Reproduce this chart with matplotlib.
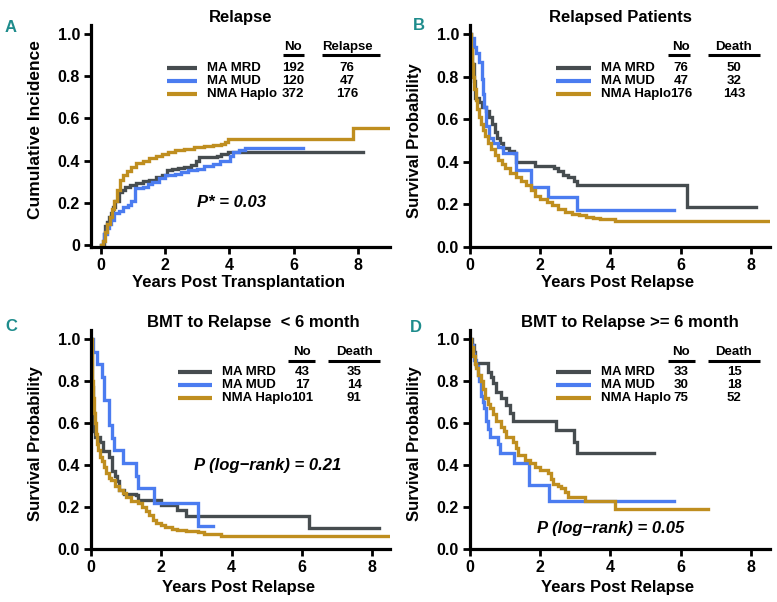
import matplotlib
matplotlib.use("Agg")
import matplotlib.pyplot as plt

plt.rcParams["font.family"] = ["Liberation Sans", "DejaVu Sans"]
plt.rcParams["font.weight"] = "bold"

W, H = 777, 602

GROUPS = ["MA MRD", "MA MUD", "NMA Haplo"]
COLORS = ["#464c4f", "#4b7cf0", "#bf8e1f"]
TEAL = "#1e8c8c"

X_TICKS = [0, 2, 4, 6, 8]
Y_TICKS = [0, 0.2, 0.4, 0.6, 0.8, 1.0]
A_YTICKLABELS = ["0", "0.2", "0.4", "0.6", "0.8", "1.0"]
BCD_YTICKLABELS = ["0.0", "0.2", "0.4", "0.6", "0.8", "1.0"]

# Panel A: cumulative incidence of relapse
a_mrd_t = [0, 0.08, 0.12, 0.18, 0.25, 0.3, 0.38, 0.45, 0.55, 0.65, 0.75, 0.9, 1.1, 1.3, 1.5,
           1.7, 1.9, 2.05, 2.2, 2.4, 2.6, 2.8, 2.95, 3.05, 3.6, 3.75, 3.95, 8.16]
a_mrd_y = [0, 0.05, 0.09, 0.11, 0.13, 0.15, 0.18, 0.21, 0.25, 0.26, 0.275, 0.285, 0.295, 0.305,
           0.31, 0.32, 0.33, 0.355, 0.36, 0.365, 0.37, 0.38, 0.40, 0.415, 0.42, 0.43, 0.44, 0.44]
a_mud_t = [0, 0.05, 0.1, 0.18, 0.25, 0.32, 0.42, 0.55, 0.7, 0.85, 0.95, 1.05, 1.3, 1.45, 1.6,
           1.8, 2.0, 2.3, 2.5, 2.7, 3.0, 3.2, 3.5, 3.7, 4.02, 4.1, 4.3, 4.5, 6.3]
a_mud_y = [0, 0.02, 0.05, 0.08, 0.10, 0.12, 0.15, 0.16, 0.18, 0.19, 0.21, 0.27, 0.275, 0.29,
           0.30, 0.315, 0.33, 0.335, 0.345, 0.355, 0.36, 0.375, 0.385, 0.40, 0.42, 0.44, 0.45,
           0.46, 0.46]
a_hap_t = [0, 0.05, 0.12, 0.2, 0.28, 0.35, 0.42, 0.5, 0.58, 0.68, 0.8, 0.95, 1.1, 1.3, 1.5,
           1.7, 1.9, 2.1, 2.3, 2.6, 2.9, 3.2, 3.5, 3.75, 3.85, 3.95, 7.85, 9.0]
a_hap_y = [0, 0.02, 0.06, 0.10, 0.13, 0.17, 0.21, 0.26, 0.31, 0.33, 0.35, 0.37, 0.39, 0.40,
           0.41, 0.42, 0.43, 0.44, 0.45, 0.455, 0.465, 0.47, 0.475, 0.48, 0.49, 0.50, 0.555, 0.555]
a_no = [192, 120, 372]
a_events = [76, 47, 176]

# Panel B: survival of relapsed patients
b_mrd_t = [0, 0.03, 0.06, 0.1, 0.15, 0.25, 0.35, 0.45, 0.55, 0.62, 0.7, 0.78, 0.85, 0.95, 1.1,
           1.25, 1.3, 1.85, 2.4, 2.5, 2.65, 2.8, 2.95, 3.05, 6.18, 8.15]
b_mrd_y = [1.0, 0.95, 0.86, 0.78, 0.70, 0.68, 0.66, 0.64, 0.61, 0.58, 0.54, 0.51, 0.49, 0.465,
           0.45, 0.44, 0.40, 0.38, 0.37, 0.355, 0.34, 0.33, 0.31, 0.29, 0.19, 0.19]
b_mud_t = [0, 0.04, 0.1, 0.18, 0.25, 0.33, 0.36, 0.4, 0.45, 0.55, 0.65, 0.8, 0.95, 1.3, 1.75,
           2.22, 3.05, 5.8]
b_mud_y = [1.0, 0.98, 0.94, 0.91, 0.87, 0.79, 0.72, 0.66, 0.57, 0.51, 0.49, 0.47, 0.44, 0.36,
           0.28, 0.235, 0.175, 0.175]
b_hap_t = [0, 0.02, 0.05, 0.08, 0.12, 0.16, 0.2, 0.25, 0.3, 0.36, 0.42, 0.5, 0.6, 0.7, 0.8, 0.9,
           1.0, 1.15, 1.3, 1.45, 1.6, 1.75, 1.85, 2.0, 2.2, 2.35, 2.5, 2.7, 2.9, 3.1, 3.3, 3.5,
           3.7, 4.13, 8.55]
b_hap_y = [1.0, 0.93, 0.86, 0.80, 0.74, 0.69, 0.65, 0.61, 0.58, 0.55, 0.52, 0.49, 0.46, 0.43,
           0.41, 0.39, 0.37, 0.35, 0.33, 0.31, 0.29, 0.27, 0.24, 0.225, 0.21, 0.195, 0.18, 0.165,
           0.155, 0.15, 0.14, 0.135, 0.13, 0.12, 0.12]
b_no = [76, 47, 176]
b_events = [50, 32, 143]

# Panel C: BMT to relapse < 6 months
c_mrd_t = [0, 0.02, 0.04, 0.06, 0.09, 0.12, 0.25, 0.35, 0.5, 0.6, 0.68, 0.75, 0.8, 0.95, 1.28,
           1.35, 2.0, 2.45, 2.7, 6.2, 8.2]
c_mrd_y = [1.0, 0.88, 0.77, 0.65, 0.56, 0.535, 0.51, 0.465, 0.44, 0.37, 0.35, 0.325, 0.28, 0.26,
           0.255, 0.235, 0.21, 0.185, 0.155, 0.10, 0.10]
c_mud_t = [0, 0.05, 0.18, 0.3, 0.38, 0.5, 0.6, 0.66, 0.9, 1.27, 1.33, 1.78, 3.05, 3.47]
c_mud_y = [1.0, 0.94, 0.88, 0.82, 0.71, 0.59, 0.53, 0.47, 0.41, 0.35, 0.29, 0.22, 0.11, 0.11]
c_hap_t = [0, 0.02, 0.04, 0.06, 0.08, 0.1, 0.13, 0.16, 0.2, 0.25, 0.3, 0.36, 0.42, 0.5, 0.58,
           0.68, 0.8, 0.9, 1.0, 1.15, 1.35, 1.45, 1.55, 1.65, 1.75, 1.85, 2.0, 2.1, 2.3, 2.45,
           2.7, 3.05, 3.2, 3.7, 8.5]
c_hap_y = [1.0, 0.9, 0.8, 0.72, 0.65, 0.6, 0.55, 0.5, 0.47, 0.44, 0.42, 0.39, 0.36, 0.34, 0.33,
           0.30, 0.28, 0.265, 0.25, 0.23, 0.22, 0.2, 0.18, 0.16, 0.14, 0.125, 0.115, 0.105, 0.095,
           0.09, 0.085, 0.08, 0.07, 0.06, 0.06]
c_no = [43, 17, 101]
c_events = [35, 14, 91]

# Panel D: BMT to relapse >= 6 months
d_mrd_t = [0, 0.05, 0.1, 0.15, 0.51, 0.6, 0.66, 0.75, 0.89, 1.03, 1.13, 1.22, 2.45, 2.95, 3.05,
           5.25]
d_mrd_y = [1.0, 0.97, 0.94, 0.885, 0.845, 0.82, 0.79, 0.75, 0.717, 0.686, 0.646, 0.61, 0.565,
           0.51, 0.455, 0.455]
d_mud_t = [0, 0.04, 0.08, 0.12, 0.17, 0.22, 0.27, 0.31, 0.36, 0.41, 0.46, 0.52, 0.56, 0.8, 0.85,
           1.25, 1.68, 2.25, 5.8]
d_mud_y = [1.0, 0.97, 0.93, 0.90, 0.87, 0.83, 0.80, 0.73, 0.70, 0.67, 0.61, 0.57, 0.535, 0.50,
           0.455, 0.41, 0.305, 0.23, 0.23]
d_hap_t = [0, 0.03, 0.08, 0.13, 0.18, 0.23, 0.3, 0.37, 0.44, 0.51, 0.58, 0.66, 0.75, 0.89, 0.96,
           1.03, 1.22, 1.3, 1.37, 1.56, 1.7, 1.84, 2.0, 2.22, 2.3, 2.36, 2.5, 2.6, 2.7, 2.79,
           3.28, 4.13, 6.79]
d_hap_y = [1.0, 0.96, 0.92, 0.88, 0.86, 0.83, 0.80, 0.76, 0.72, 0.69, 0.67, 0.645, 0.61, 0.58,
           0.56, 0.535, 0.51, 0.48, 0.45, 0.425, 0.41, 0.39, 0.375, 0.36, 0.335, 0.31, 0.30,
           0.29, 0.27, 0.25, 0.23, 0.19, 0.19]
d_no = [33, 30, 75]
d_events = [15, 18, 52]

PANELS = [
    dict(letter="A", letter_px=(11, 28), rect=(91, 25, 390, 247), xlim=(-0.31, 9.0),
         ylim=(-0.01, 1.043), yticklabels=A_YTICKLABELS,
         curves=[(a_mrd_t, a_mrd_y), (a_mud_t, a_mud_y), (a_hap_t, a_hap_y)],
         no=a_no, events=a_events, ev_head="Relapse",
         title="Relapse", title_xy=(0.5, 1.036),
         xlabel="Years Post Transplantation", xlabel_xy=(0.492, -0.162),
         ylabel="Cumulative Incidence", ylabel_xy=(-0.187, 0.53), ylabel_size=12.5,
         ptext="P* = 0.03", ptext_xy=(4.08, 0.2),
         leg=dict(line=(0.254, 0.355), lab=0.388, no=0.676, no_ul=(0.642, 0.712), ev=0.856,
                  ev_ul=(0.772, 0.967), head=0.90, ul=0.866, rows=(0.806, 0.748, 0.689))),
    dict(letter="B", letter_px=(419, 25), rect=(470, 25, 770, 247), xlim=(0, 8.55),
         ylim=(0, 1.043), yticklabels=BCD_YTICKLABELS,
         curves=[(b_mrd_t, b_mrd_y), (b_mud_t, b_mud_y), (b_hap_t, b_hap_y)],
         no=b_no, events=b_events, ev_head="Death",
         title="Relapsed Patients", title_xy=(0.5, 1.036),
         xlabel="Years Post Relapse", xlabel_xy=(0.493, -0.162),
         ylabel="Survival Probability", ylabel_xy=(-0.184, 0.48), ylabel_size=12,
         ptext=None, ptext_xy=None,
         leg=dict(line=(0.287, 0.403), lab=0.437, no=0.703, no_ul=(0.66, 0.733), ev=0.88,
                  ev_ul=(0.793, 0.967), head=0.90, ul=0.866, rows=(0.805, 0.748, 0.688))),
    dict(letter="C", letter_px=(11, 327), rect=(91, 330, 390, 549), xlim=(0, 8.5),
         ylim=(0, 1.043), yticklabels=BCD_YTICKLABELS,
         curves=[(c_mrd_t, c_mrd_y), (c_mud_t, c_mud_y), (c_hap_t, c_hap_y)],
         no=c_no, events=c_events, ev_head="Death",
         title="BMT to Relapse  < 6 month", title_xy=(0.542, 1.032),
         xlabel="Years Post Relapse", xlabel_xy=(0.492, -0.174),
         ylabel="Survival Probability", ylabel_xy=(-0.187, 0.48), ylabel_size=12,
         ptext="P (log\u2212rank) = 0.21", ptext_xy=(5.03, 0.40),
         leg=dict(line=(0.291, 0.405), lab=0.438, no=0.706, no_ul=(0.659, 0.749), ev=0.88,
                  ev_ul=(0.793, 0.967), head=0.901, ul=0.86, rows=(0.81, 0.749, 0.688))),
    dict(letter="D", letter_px=(416, 328), rect=(470, 330, 770, 549), xlim=(0, 8.55),
         ylim=(0, 1.043), yticklabels=BCD_YTICKLABELS,
         curves=[(d_mrd_t, d_mrd_y), (d_mud_t, d_mud_y), (d_hap_t, d_hap_y)],
         no=d_no, events=d_events, ev_head="Death",
         title="BMT to Relapse >= 6 month", title_xy=(0.533, 1.032),
         xlabel="Years Post Relapse", xlabel_xy=(0.493, -0.174),
         ylabel="Survival Probability", ylabel_xy=(-0.184, 0.48), ylabel_size=12,
         ptext="P (log\u2212rank) = 0.05", ptext_xy=(4.0, 0.10),
         leg=dict(line=(0.287, 0.403), lab=0.437, no=0.703, no_ul=(0.66, 0.75), ev=0.88,
                  ev_ul=(0.793, 0.967), head=0.901, ul=0.86, rows=(0.81, 0.749, 0.688))),
]


def draw_panel(fig, p):
    x0, y0, x1, y1 = p["rect"]
    ax = fig.add_axes([x0 / W, 1 - y1 / H, (x1 - x0) / W, (y1 - y0) / H])
    for (t, y), color in zip(p["curves"], COLORS):
        ax.plot(t, y, drawstyle="steps-post", color=color, lw=2.4, solid_joinstyle="miter")
    ax.set_xlim(*p["xlim"])
    ax.set_ylim(*p["ylim"])
    ax.set_xticks(X_TICKS)
    ax.set_yticks(Y_TICKS)
    ax.set_yticklabels(p["yticklabels"])
    for side in ("top", "right"):
        ax.spines[side].set_visible(False)
    for side in ("left", "bottom"):
        ax.spines[side].set_linewidth(2.3)
    ax.tick_params(direction="out", length=5, width=2, labelsize=11.5, pad=3)

    tr = ax.transAxes
    ax.text(*p["title_xy"], p["title"], transform=tr, ha="center", va="center",
            fontsize=12, fontweight="bold")
    ax.text(*p["xlabel_xy"], p["xlabel"], transform=tr, ha="center", va="center",
            fontsize=12, fontweight="bold")
    ax.text(*p["ylabel_xy"], p["ylabel"], transform=tr, ha="center", va="center",
            rotation=90, fontsize=p["ylabel_size"], fontweight="bold")
    if p["ptext"]:
        ax.text(*p["ptext_xy"], p["ptext"], ha="center", va="center", fontsize=12,
                fontweight="bold", fontstyle="italic")

    lg = p["leg"]
    ax.text(lg["no"], lg["head"], "No", transform=tr, ha="center", va="center", fontsize=9.5)
    ax.text(lg["ev"], lg["head"], p["ev_head"], transform=tr, ha="center", va="center",
            fontsize=9.5)
    for ul in (lg["no_ul"], lg["ev_ul"]):
        ax.plot(ul, [lg["ul"], lg["ul"]], transform=tr, color="black", lw=2.2,
                solid_capstyle="butt", clip_on=False)
    for name, color, n, ev, ry in zip(GROUPS, COLORS, p["no"], p["events"], lg["rows"]):
        ax.plot(lg["line"], [ry, ry], transform=tr, color=color, lw=3,
                solid_capstyle="butt", clip_on=False)
        ax.text(lg["lab"], ry, name, transform=tr, ha="left", va="center", fontsize=9.5)
        ax.text(lg["no"], ry, str(n), transform=tr, ha="center", va="center", fontsize=9.5)
        ax.text(lg["ev"], ry, str(ev), transform=tr, ha="center", va="center", fontsize=9.5)

    lx, ly = p["letter_px"]
    fig.text(lx / W, 1 - ly / H, p["letter"], ha="center", va="center", color=TEAL,
             fontsize=12, fontweight="bold")
    return ax


fig = plt.figure(figsize=(W / 100, H / 100), dpi=100)
for panel in PANELS:
    draw_panel(fig, panel)
fig.savefig("out.png", dpi=100)
